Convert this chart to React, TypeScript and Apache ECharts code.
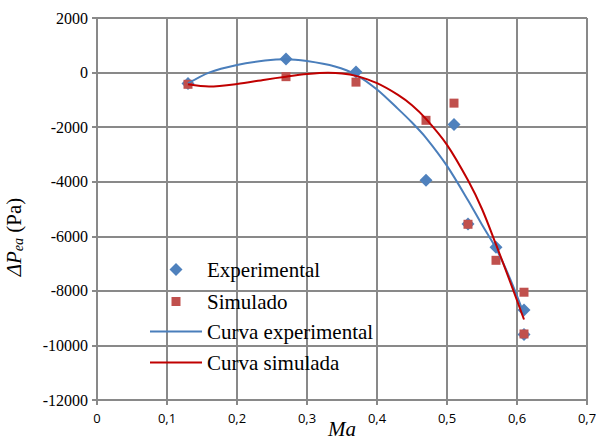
import React, { useEffect, useRef } from "react";
import * as echarts from "echarts";

// Measured points
const expX = [0.13, 0.27, 0.37, 0.47, 0.51, 0.53, 0.57, 0.61, 0.61];
const expY = [-400, 500, 20, -3950, -1900, -5550, -6400, -8700, -9600];
const simX = [0.13, 0.27, 0.37, 0.47, 0.51, 0.53, 0.57, 0.61, 0.61];
const simY = [-430, -150, -350, -1750, -1120, -5560, -6880, -8050, -9580];

// Trend curves
const curveExpX = [0.13, 0.16, 0.2, 0.24, 0.27, 0.3, 0.34, 0.37, 0.4, 0.43, 0.45, 0.47, 0.5, 0.53, 0.55, 0.57, 0.59, 0.61];
const curveExpY = [-400, 0, 280, 440, 490, 420, 220, -80, -620, -1330, -1830, -2390, -3420, -4680, -5580, -6440, -7550, -8850];
const curveSimX = [0.13, 0.16, 0.2, 0.24, 0.27, 0.3, 0.33, 0.35, 0.37, 0.4, 0.43, 0.45, 0.47, 0.5, 0.53, 0.55, 0.57, 0.59, 0.61];
const curveSimY = [-430, -510, -420, -260, -150, -55, -5, -30, -120, -390, -820, -1200, -1700, -2650, -3950, -5000, -6300, -7650, -9050];

const seriesNames = ["Experimental", "Simulado", "Curva experimental", "Curva simulada"];

const zip = (xs: number[], ys: number[]) => xs.map((x, i) => [x, ys[i]]);

const GRID = "#898989";
const SERIF = "'Liberation Serif', 'Times New Roman', serif";
const LINE_ICON = "path://M0,0H52V2H0Z";

export default function App() {
  const ref = useRef<HTMLDivElement>(null);
  useEffect(() => {
    const chart = echarts.init(ref.current!, null, { renderer: "svg" });
    const legendText = { fontFamily: SERIF, fontSize: 21, color: "#000" };
    chart.setOption({
      animation: false,
      grid: { left: 97, right: 9, top: 18, bottom: 43, containLabel: false, outerBoundsMode: "none" },
      xAxis: {
        type: "value",
        min: 0,
        max: 0.7,
        interval: 0.1,
        name: "Ma",
        nameLocation: "middle",
        nameGap: 18,
        nameMoveOverlap: false,
        nameTextStyle: { fontFamily: SERIF, fontStyle: "italic", fontSize: 21, color: "#000" },
        axisLine: { onZero: false, lineStyle: { color: GRID, width: 2 } },
        axisTick: { show: true, length: 5, lineStyle: { color: GRID, width: 2 } },
        axisLabel: {
          fontFamily: "'Open Sans', sans-serif",
          fontSize: 13,
          color: "#000",
          margin: 11,
          formatter: (v: number) => (Math.round(v * 10) / 10).toString().replace(".", ","),
        },
        splitLine: { show: true, lineStyle: { color: GRID, width: 2 } },
      },
      yAxis: {
        type: "value",
        min: -12000,
        max: 2000,
        interval: 2000,
        name: "{i|ΔP}{s|ea}{n| (Pa)}",
        nameLocation: "middle",
        nameGap: 72,
        nameRotate: 90,
        nameMoveOverlap: false,
        nameTextStyle: {
          padding: [0, 56, 0, 0],
          rich: {
            i: { fontFamily: SERIF, fontStyle: "italic", fontSize: 21, color: "#000" },
            s: { fontFamily: SERIF, fontStyle: "italic", fontSize: 14, color: "#000", padding: [9, 0, 0, 0] },
            n: { fontFamily: SERIF, fontSize: 21, color: "#000" },
          },
        },
        axisLine: { show: true, lineStyle: { color: GRID, width: 2 } },
        axisTick: { show: true, length: 5, lineStyle: { color: GRID, width: 2 } },
        axisLabel: {
          fontFamily: SERIF,
          fontSize: 16,
          color: "#000",
          margin: 9,
          formatter: (v: number) => String(v),
        },
        splitLine: { show: true, lineStyle: { color: GRID, width: 2 } },
      },
      legend: [
        {
          data: [{ name: seriesNames[0], icon: "diamond" }],
          left: 169.5,
          top: 259,
          padding: 0,
          itemWidth: 13,
          itemHeight: 13,
          textStyle: { ...legendText, padding: [0, 0, 0, 19.5] },
        },
        {
          data: [{ name: seriesNames[1], icon: "rect" }],
          left: 171.5,
          top: 291,
          padding: 0,
          itemWidth: 9,
          itemHeight: 9,
          textStyle: { ...legendText, padding: [0, 0, 0, 21.5] },
        },
        {
          data: [
            { name: seriesNames[2], icon: LINE_ICON },
            { name: seriesNames[3], icon: LINE_ICON },
          ],
          orient: "vertical",
          left: 150,
          top: 321,
          padding: 0,
          itemWidth: 52,
          itemHeight: 2,
          itemGap: 10,
          textStyle: legendText,
        },
      ],
      series: [
        {
          name: seriesNames[0],
          type: "scatter",
          symbol: "diamond",
          symbolSize: 13,
          itemStyle: { color: "#4F81BD", opacity: 1 },
          data: zip(expX, expY),
          z: 2,
        },
        {
          name: seriesNames[1],
          type: "scatter",
          symbol: "rect",
          symbolSize: 9,
          itemStyle: { color: "#C0504D", opacity: 1 },
          data: zip(simX, simY),
          z: 3,
        },
        {
          name: seriesNames[2],
          type: "line",
          smooth: 0.3,
          symbol: "none",
          showSymbol: false,
          lineStyle: { color: "#4A7EBB", width: 2 },
          itemStyle: { color: "#4A7EBB" },
          data: zip(curveExpX, curveExpY),
          z: 4,
        },
        {
          name: seriesNames[3],
          type: "line",
          smooth: 0.3,
          symbol: "none",
          showSymbol: false,
          lineStyle: { color: "#C00000", width: 2 },
          itemStyle: { color: "#C00000" },
          data: zip(curveSimX, curveSimY),
          z: 5,
        },
      ],
    });
    return () => chart.dispose();
  }, []);
  return <div ref={ref} style={{ width: 596, height: 443, position: "absolute", left: 0, top: 0 }} />;
}
